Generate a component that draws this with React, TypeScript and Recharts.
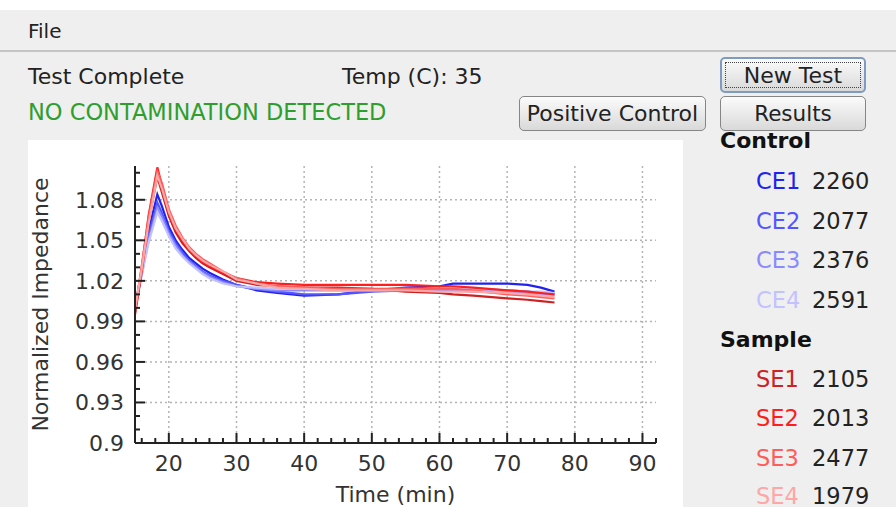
import React from 'react';
import { LineChart, Line, XAxis, YAxis, CartesianGrid } from 'recharts';

const times = [15, 16, 17, 18.3, 19, 20, 21, 22, 23, 24, 25, 26, 28, 30, 33, 36, 40, 45, 50, 55, 60, 62, 65, 70, 73, 75, 77];

const ce1 = [1.000, 1.028, 1.057, 1.084, 1.075, 1.060, 1.050, 1.043, 1.037, 1.033, 1.029, 1.026, 1.021, 1.017, 1.013, 1.011, 1.009, 1.010, 1.013, 1.015, 1.016, 1.018, 1.018, 1.018, 1.017, 1.015, 1.012];
const ce2 = [0.999, 1.026, 1.053, 1.078, 1.070, 1.057, 1.048, 1.041, 1.035, 1.031, 1.027, 1.024, 1.020, 1.017, 1.014, 1.012, 1.010, 1.010, 1.012, 1.013, 1.014, 1.014, 1.014, 1.013, 1.012, 1.011, 1.010];
const ce3 = [1.001, 1.025, 1.050, 1.074, 1.067, 1.055, 1.046, 1.039, 1.034, 1.030, 1.026, 1.023, 1.019, 1.016, 1.014, 1.013, 1.013, 1.013, 1.013, 1.013, 1.013, 1.013, 1.012, 1.011, 1.011, 1.010, 1.010];
const ce4 = [1.002, 1.024, 1.048, 1.071, 1.064, 1.053, 1.044, 1.038, 1.033, 1.029, 1.025, 1.022, 1.018, 1.016, 1.015, 1.014, 1.014, 1.014, 1.014, 1.014, 1.014, 1.014, 1.014, 1.013, 1.012, 1.012, 1.011];
const se1 = [0.995, 1.027, 1.064, 1.097, 1.085, 1.068, 1.056, 1.048, 1.042, 1.037, 1.033, 1.030, 1.025, 1.020, 1.017, 1.016, 1.015, 1.015, 1.014, 1.012, 1.011, 1.010, 1.009, 1.007, 1.006, 1.005, 1.004];
const se2 = [0.997, 1.030, 1.068, 1.104, 1.090, 1.070, 1.058, 1.050, 1.043, 1.038, 1.034, 1.031, 1.026, 1.022, 1.019, 1.018, 1.017, 1.017, 1.017, 1.017, 1.016, 1.016, 1.015, 1.013, 1.012, 1.011, 1.010];
const se3 = [0.998, 1.031, 1.066, 1.101, 1.092, 1.073, 1.061, 1.052, 1.045, 1.040, 1.036, 1.033, 1.027, 1.022, 1.018, 1.016, 1.015, 1.014, 1.014, 1.014, 1.014, 1.014, 1.013, 1.010, 1.009, 1.008, 1.007];
const se4 = [0.999, 1.029, 1.062, 1.098, 1.088, 1.071, 1.059, 1.051, 1.044, 1.039, 1.035, 1.032, 1.027, 1.021, 1.018, 1.015, 1.014, 1.013, 1.013, 1.013, 1.012, 1.012, 1.012, 1.011, 1.010, 1.009, 1.008];

const xMajorTicks = [20, 30, 40, 50, 60, 70, 80, 90];
const xAllTicks = [16, 18, 20, 22, 24, 26, 28, 30, 32, 34, 36, 38, 40, 42, 44, 46, 48, 50, 52, 54, 56, 58, 60, 62, 64, 66, 68, 70, 72, 74, 76, 78, 80, 82, 84, 86, 88, 90, 92];
const yMajorTicks = [0.9, 0.93, 0.96, 0.99, 1.02, 1.05, 1.08];
const yAllTicks = [0.9, 0.91, 0.92, 0.93, 0.94, 0.95, 0.96, 0.97, 0.98, 0.99, 1.0, 1.01, 1.02, 1.03, 1.04, 1.05, 1.06, 1.07, 1.08, 1.09, 1.1];

const controlNames = ['CE1', 'CE2', 'CE3', 'CE4'];
const controlValues = ['2260', '2077', '2376', '2591'];
const controlColors = ['#2222f0', '#5555ff', '#8a8aff', '#c2c2ff'];
const sampleNames = ['SE1', 'SE2', 'SE3', 'SE4'];
const sampleValues = ['2105', '2013', '2477', '1979'];
const sampleColors = ['#cc2222', '#ff1e1e', '#ff5c5c', '#ffa6a6'];

const seriesKeys = ['CE1', 'CE2', 'CE3', 'CE4', 'SE1', 'SE2', 'SE3', 'SE4'];
const seriesColors = [...controlColors, ...sampleColors];
const seriesValues = [ce1, ce2, ce3, ce4, se1, se2, se3, se4];

const data = times.map((t, i) => {
  const row: Record<string, number> = { t };
  seriesKeys.forEach((k, j) => {
    row[k] = seriesValues[j][i];
  });
  return row;
});

const FONT = '"DejaVu Sans", Verdana, sans-serif';
const AXIS = '#222';

const XTick = (props: any) => {
  const { x, y, payload } = props;
  const major = xMajorTicks.includes(payload.value);
  return (
    <g>
      <line x1={x} x2={x} y1={y} y2={y - (major ? 10 : 5)} stroke={AXIS} strokeWidth={2} />
      {major && (
        <text x={x} y={y + 28} textAnchor="middle" fontSize={22} fill="#333" fontFamily={FONT}>
          {payload.value}
        </text>
      )}
    </g>
  );
};

const YTick = (props: any) => {
  const { x, y, payload } = props;
  const major = yMajorTicks.includes(payload.value);
  return (
    <g>
      <line x1={x} x2={x + (major ? 10 : 5)} y1={y} y2={y} stroke={AXIS} strokeWidth={2} />
      {major && (
        <text x={x - 11} y={y + 8} textAnchor="end" fontSize={22} fill="#333" fontFamily={FONT}>
          {String(payload.value)}
        </text>
      )}
    </g>
  );
};

const Button = ({ left, top, width, height, label, fontSize, focused }: any) => (
  <div
    style={{
      position: 'absolute',
      left,
      top,
      width,
      height,
      boxSizing: 'border-box',
      border: focused ? '2px solid #7f9cc0' : '1px solid #858585',
      borderRadius: 5,
      background: 'linear-gradient(#fbfbfb, #d9d9d9)',
      display: 'flex',
      alignItems: 'center',
      justifyContent: 'center',
      fontSize,
      color: '#222',
    }}
  >
    {focused ? (
      <div
        style={{
          position: 'absolute',
          left: 3,
          top: 3,
          right: 3,
          bottom: 3,
          border: '1px dotted #444',
        }}
      />
    ) : null}
    <span style={{ position: 'relative' }}>{label}</span>
  </div>
);

const Txt = ({ left, cy, children, color, size, bold }: any) => (
  <div
    style={{
      position: 'absolute',
      left,
      top: cy - 15,
      height: 30,
      lineHeight: '30px',
      fontSize: size,
      color: color || '#222',
      fontWeight: bold ? 'bold' : 'normal',
      whiteSpace: 'nowrap',
    }}
  >
    {children}
  </div>
);

export default function App() {
  const rowY = [181, 221, 260, 300];
  const sampleY = [379, 418, 458, 496];
  return (
    <div
      style={{
        position: 'absolute',
        left: 0,
        top: 0,
        width: 896,
        height: 507,
        overflow: 'hidden',
        background: '#efefef',
        fontFamily: FONT,
      }}
    >
      <div style={{ position: 'absolute', left: 0, top: 0, width: 896, height: 10, background: '#ffffff' }} />
      <div style={{ position: 'absolute', left: 0, top: 50, width: 896, height: 2, background: '#c4c4c4' }} />
      <Txt left={28} cy={31} size={20}>File</Txt>
      <Txt left={28} cy={77} size={22}>Test Complete</Txt>
      <Txt left={342} cy={77} size={22}>Temp (C): 35</Txt>
      <Txt left={28} cy={112} size={22.5} color="#2e9e2e">NO CONTAMINATION DETECTED</Txt>

      <Button left={720} top={57} width={146} height={36} label="New Test" fontSize={22} focused />
      <Button left={519} top={96} width={187} height={35} label="Positive Control" fontSize={22} />
      <Button left={720} top={96} width={146} height={35} label="Results" fontSize={21.5} />

      <Txt left={720} cy={141} size={22} bold color="#111">Control</Txt>
      {controlNames.map((n, i) => (
        <React.Fragment key={n}>
          <Txt left={756} cy={rowY[i]} size={22.5} color={controlColors[i]}>{n}</Txt>
          <Txt left={812} cy={rowY[i]} size={22.5}>{controlValues[i]}</Txt>
        </React.Fragment>
      ))}
      <Txt left={720} cy={340} size={22} bold color="#111">Sample</Txt>
      {sampleNames.map((n, i) => (
        <React.Fragment key={n}>
          <Txt left={756} cy={sampleY[i]} size={22.5} color={sampleColors[i]}>{n}</Txt>
          <Txt left={812} cy={sampleY[i]} size={22.5}>{sampleValues[i]}</Txt>
        </React.Fragment>
      ))}

      <div style={{ position: 'absolute', left: 28, top: 140, width: 655, height: 367, background: '#ffffff' }}>
        <LineChart width={655} height={367} data={data} margin={{ top: 26, right: 27, bottom: 0, left: 0 }}>
          <CartesianGrid
            horizontalValues={[0.93, 0.96, 0.99, 1.02, 1.05, 1.08]}
            verticalValues={xMajorTicks}
            stroke="#b4b4b4"
            strokeWidth={1.5}
            strokeDasharray="2 3"
          />
          <XAxis
            dataKey="t"
            type="number"
            domain={[15, 92]}
            ticks={xAllTicks}
            interval={0}
            allowDataOverflow
            height={64}
            tickSize={0}
            tickMargin={0}
            tickLine={false}
            axisLine={{ stroke: AXIS, strokeWidth: 2 }}
            tick={(p: any) => <XTick {...p} />}
            label={{
              value: 'Time (min)',
              position: 'insideBottom',
              offset: 5,
              style: { fontSize: 22, fill: '#333', fontFamily: FONT },
            }}
          />
          <YAxis
            type="number"
            domain={[0.9, 1.105]}
            ticks={yAllTicks}
            interval={0}
            allowDataOverflow
            width={107}
            tickSize={0}
            tickMargin={0}
            tickLine={false}
            axisLine={{ stroke: AXIS, strokeWidth: 2 }}
            tick={(p: any) => <YTick {...p} />}
            label={{
              value: 'Normalized Impedance',
              angle: -90,
              position: 'insideLeft',
              offset: 12,
              style: { textAnchor: 'middle', fontSize: 22, fill: '#333', fontFamily: FONT },
            }}
          />
          {seriesKeys.map((k, i) => (
            <Line
              key={k}
              dataKey={k}
              type="linear"
              stroke={seriesColors[i]}
              strokeWidth={2.2}
              dot={false}
              isAnimationActive={false}
            />
          ))}
        </LineChart>
      </div>
    </div>
  );
}
